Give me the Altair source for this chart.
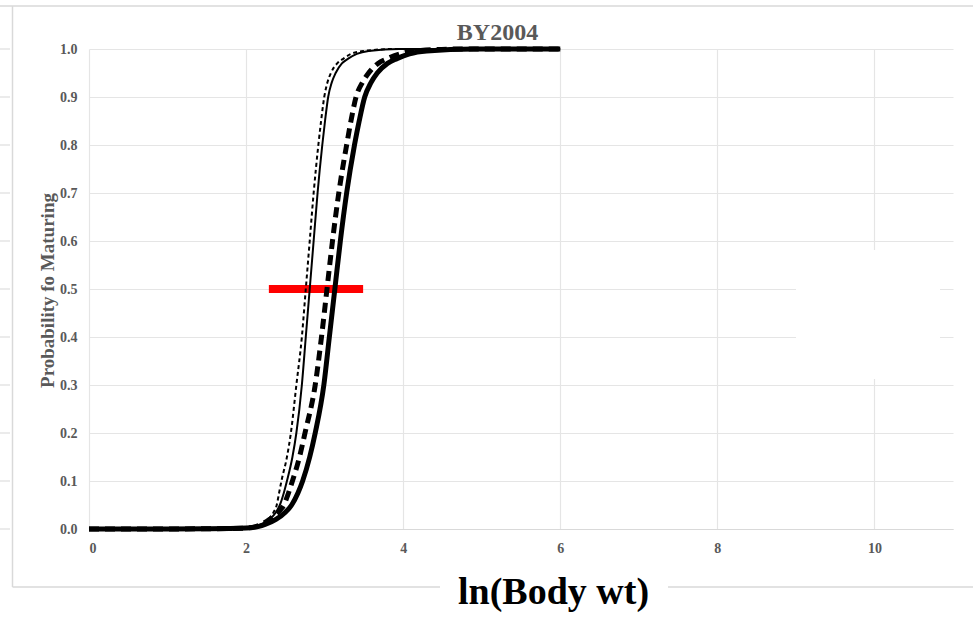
import altair as alt
import pandas as pd

# ---- data ----
series_names = ["Dotted", "Thin", "ThickDashed", "ThickSolid"]

p_levels = [0, 0.0001, 0.0005, 0.002, 0.005, 0.01, 0.02, 0.035, 0.05, 0.075, 0.1, 0.15, 0.2, 0.3, 0.4,
            0.5, 0.6, 0.7, 0.8, 0.85, 0.9, 0.93, 0.95, 0.97, 0.98, 0.99, 0.996, 1.0, 1.0]

x_dotted = [0, 1.0, 1.5, 2.0, 2.12, 2.2, 2.28, 2.35, 2.39, 2.42, 2.45, 2.52, 2.57, 2.64, 2.71,
            2.76, 2.81, 2.86, 2.92, 2.955, 2.995, 3.035, 3.08, 3.16, 3.24, 3.34, 3.5, 3.9, 6.0]
x_thin = [0, 1.0, 1.5, 2.0, 2.12, 2.2, 2.3, 2.38, 2.43, 2.48, 2.52, 2.59, 2.64, 2.71, 2.76,
          2.81, 2.86, 2.91, 2.97, 3.005, 3.045, 3.09, 3.14, 3.22, 3.30, 3.41, 3.56, 3.95, 6.0]
x_dashed = [0, 1.0, 1.5, 2.0, 2.12, 2.2, 2.3, 2.41, 2.48, 2.54, 2.59, 2.68, 2.75, 2.88, 2.96,
            3.03, 3.10, 3.18, 3.28, 3.335, 3.40, 3.48, 3.56, 3.68, 3.80, 3.96, 4.15, 4.7, 6.0]
x_thick = [0, 1.0, 1.5, 2.0, 2.15, 2.25, 2.38, 2.5, 2.58, 2.66, 2.72, 2.81, 2.88, 2.99, 3.06,
           3.13, 3.20, 3.28, 3.38, 3.44, 3.51, 3.59, 3.67, 3.80, 3.92, 4.08, 4.3, 4.9, 6.0]

red_x_start = [2.29]
red_x_end = [3.49]
red_y = [0.5]

x_ticks = [0, 2, 4, 6, 8, 10]
y_ticks = [0.0, 0.1, 0.2, 0.3, 0.4, 0.5, 0.6, 0.7, 0.8, 0.9, 1.0]

chart_title = ["BY2004"]

# ---- tables ----
frames = []
for name, xs in zip(series_names, [x_dotted, x_thin, x_dashed, x_thick]):
    frames.append(pd.DataFrame({"x": xs, "p": p_levels, "series": name}))
curves = pd.concat(frames, ignore_index=True)
red = pd.DataFrame({"x": red_x_start, "x2": red_x_end, "p": red_y})
ticks_df = pd.DataFrame({"p": y_ticks})
title_df = pd.DataFrame({"t": chart_title})

FONT = "Liberation Serif"
GREY = "#595959"
FRAME = "#d9d9d9"

xscale = alt.Scale(domain=[0, 11], nice=False, zero=False)
yscale = alt.Scale(domain=[0, 1], nice=False)

x_enc = alt.X("x:Q", scale=xscale,
              axis=alt.Axis(values=x_ticks, format="d", title="ln(Body wt)",
                            titleFont=FONT, titleFontSize=38, titleFontWeight="bold",
                            titleColor="#000000", titleX=464, titleY=74,
                            titleBaseline="alphabetic", titleAlign="center",
                            labelPadding=12, domain=True, domainColor=FRAME))
y_enc = alt.Y("p:Q", scale=yscale,
              axis=alt.Axis(values=y_ticks, format=".1f", title="Probability fo Maturing",
                            titleFont=FONT, titleFontSize=19, titleFontWeight="bold",
                            titleColor=GREY, titleX=-42, titleY=241,
                            titleAngle=270, titleBaseline="middle", titleAlign="center",
                            labelPadding=12, domain=False))

base = alt.Chart(curves)

def curve_layer(name, width, dash=None):
    kw = dict(color="black", strokeWidth=width, interpolate="monotone", clip=False)
    if dash:
        kw["strokeDash"] = dash
    return base.transform_filter(alt.datum.series == name).mark_line(**kw).encode(
        x=x_enc, y=y_enc, order="x:Q")

thick = curve_layer("ThickSolid", 5)
dashed = curve_layer("ThickDashed", 5, [10, 6])
thin = curve_layer("Thin", 2)
dotted = curve_layer("Dotted", 2, [4, 3])

red_bar = alt.Chart(red).mark_rule(color="#ff0000", strokeWidth=8, strokeCap="butt").encode(
    x="x:Q", x2="x2:Q", y="p:Q")

title_text = alt.Chart(title_df).mark_text(
    font=FONT, fontSize=24, fontWeight="bold", color=GREY,
    align="center", baseline="alphabetic").encode(
    text="t:N", x=alt.value(408.5), y=alt.value(-9))

# white box hiding gridlines (blank legend area)
white_box = alt.Chart(red).mark_rect(color="white").encode(
    x=alt.value(707), x2=alt.value(851), y=alt.value(201), y2=alt.value(330))

# outer frame decorations
frame_left = alt.Chart(red).mark_rule(color=FRAME, strokeWidth=1.5).encode(
    x=alt.value(-76.5), y=alt.value(-43), y2=alt.value(538))
frame_top = alt.Chart(red).mark_rule(color=FRAME, strokeWidth=1.5).encode(
    x=alt.value(-89), x2=alt.value(884), y=alt.value(-43))
frame_bottom1 = alt.Chart(red).mark_rule(color=FRAME, strokeWidth=1.5).encode(
    x=alt.value(-76.5), x2=alt.value(351), y=alt.value(538))
frame_bottom2 = alt.Chart(red).mark_rule(color=FRAME, strokeWidth=1.5).encode(
    x=alt.value(579), x2=alt.value(884), y=alt.value(538))
left_frags = alt.Chart(ticks_df).mark_rule(color="#e5e5e5", strokeWidth=1.5).encode(
    y=alt.Y("p:Q", scale=yscale), x=alt.value(-89), x2=alt.value(-79))

chart = alt.layer(
    white_box, red_bar, thick, dashed, thin, dotted, title_text,
    frame_left, frame_top, frame_bottom1, frame_bottom2, left_frags
).properties(
    width=864, height=480,
    autosize=alt.AutoSizeParams(type="none"),
    padding={"left": 89, "top": 49, "right": 20, "bottom": 90},
).configure(background="white").configure_view(stroke=None).configure_axis(
    labelFont=FONT, labelFontSize=14, labelFontWeight="bold", labelColor=GREY,
    gridColor="#e5e5e5", gridWidth=1.2, ticks=False
)

chart.save("out.html", embed_options={"renderer": "svg", "actions": False})
